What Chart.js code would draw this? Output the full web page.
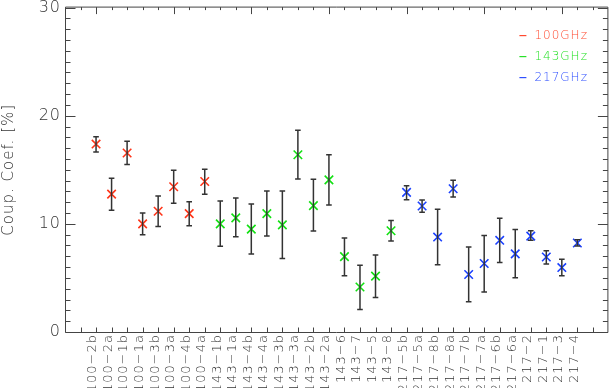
<!DOCTYPE html>
<html><head><meta charset="utf-8">
<script src="https://cdn.jsdelivr.net/npm/chart.js@4/dist/chart.umd.min.js"></script>
<style>html,body{margin:0;padding:0;background:#fff;}#wrap{width:616px;height:388px;position:relative;}</style>
</head><body><div id="wrap"><canvas id="c" width="616" height="388"></canvas></div>
<script>
const categories = ['100\u22122b','100\u22122a','100\u22121b','100\u22121a','100\u22123b','100\u22123a','100\u22124b','100\u22124a',
  '143\u22121b','143\u22121a','143\u22124b','143\u22124a','143\u22123b','143\u22123a','143\u22122b','143\u22122a','143\u22126','143\u22127','143\u22125','143\u22128',
  '217\u22125b','217\u22125a','217\u22128b','217\u22128a','217\u22127b','217\u22127a','217\u22126b','217\u22126a','217\u22122','217\u22121','217\u22123','217\u22124'];
const seriesNames = ['100GHz','143GHz','217GHz'];
const values100 = [17.38, 12.75, 16.55, 10.0, 11.17, 13.43, 10.95, 13.92];
const upper100  = [18.05, 14.22, 17.65, 11.0, 12.57, 14.95, 12.05, 15.05];
const lower100  = [16.64, 11.26, 15.5, 9.0, 9.76, 11.9, 9.82, 12.75];
const values143 = [10.0, 10.55, 9.51, 10.95, 9.91, 16.39, 11.69, 14.07, 6.97, 4.16, 5.17, 9.36];
const upper143  = [12.11, 12.39, 11.83, 13.03, 13.03, 18.66, 14.13, 16.39, 8.69, 6.18, 7.13, 10.31];
const lower143  = [7.93, 8.81, 7.22, 8.87, 6.79, 14.16, 9.33, 11.74, 5.2, 2.08, 3.18, 8.41];
const values217 = [12.91, 11.65, 8.78, 13.25, 5.32, 6.33, 8.48, 7.22, 8.87, 6.94, 5.96, 8.23];
const upper217  = [13.52, 12.2, 11.35, 14.04, 7.86, 8.93, 10.52, 9.49, 9.36, 7.52, 6.73, 8.53];
const lower217  = [12.24, 11.07, 6.21, 12.48, 2.79, 3.7, 6.42, 5.02, 8.48, 6.3, 5.2, 7.95];
const yTicks = [0, 10, 20, 30];

function build(vals, up, lo, offset) {
  return vals.map((v, i) => ({x: offset + i, y: v, hi: up[i], lo: lo[i]}));
}
const markerColors = ['#ff3418', '#12e012', '#1a40ff'];
const legendColors = ['#ff4a30', '#28e028', '#3050ff'];

Chart.defaults.font.family = "'DejaVu Sans', sans-serif";
Chart.defaults.font.weight = '200';
Chart.defaults.color = '#333';

const overlay = {
  id: 'overlay',
  beforeDraw(chart) {
    chart.ctx.letterSpacing = '1px';
  },
  afterDatasetsDraw(chart) {
    const {ctx, scales: {x, y}} = chart;
    ctx.save();
    ctx.strokeStyle = '#333';
    ctx.lineWidth = 1.5;
    chart.data.datasets.forEach(ds => {
      ds.data.forEach(p => {
        const px = x.getPixelForValue(p.x);
        const ph = y.getPixelForValue(p.hi), pl = y.getPixelForValue(p.lo);
        ctx.beginPath();
        ctx.moveTo(px, ph); ctx.lineTo(px, pl);
        ctx.moveTo(px - 2.8, ph); ctx.lineTo(px + 2.8, ph);
        ctx.moveTo(px - 2.8, pl); ctx.lineTo(px + 2.8, pl);
        ctx.stroke();
      });
    });
    ctx.restore();
  },
  afterDraw(chart) {
    const {ctx, chartArea: a, scales: {x, y}} = chart;
    ctx.save();
    ctx.strokeStyle = '#444';
    ctx.lineWidth = 1;
    const xL = a.left + 0.5, xR = a.right - 0.5, yT = a.top - 0.5, yB = a.bottom + 0.5;
    ctx.beginPath();
    ctx.moveTo(xL, yT); ctx.lineTo(xR, yT); ctx.lineTo(xR, yB); ctx.lineTo(xL, yB); ctx.closePath();
    for (let v = y.min; v <= y.max; v++) {
      const py = Math.round(y.getPixelForValue(v)) + 0.5;
      const len = v % 10 === 0 ? 10 : 5;
      ctx.moveTo(xL, py); ctx.lineTo(xL + len, py);
      ctx.moveTo(xR, py); ctx.lineTo(xR - len, py);
    }
    for (let i = Math.ceil(x.min) + 1; i < x.max; i++) {
      const px = Math.round(x.getPixelForValue(i)) + 0.5;
      ctx.moveTo(px, yB); ctx.lineTo(px, yB - 5);
      const tl = i % 5 === 0 ? 7 : 3;
      ctx.moveTo(px, yT); ctx.lineTo(px, yT + tl);
    }
    ctx.stroke();
    // legend
    ctx.font = "200 12px 'DejaVu Sans'";
    ctx.textBaseline = 'middle';
    chart.data.datasets.forEach((ds, k) => {
      const ly = a.top + 28 + k * 21;
      ctx.strokeStyle = ds.legendColor;
      ctx.lineWidth = 1.2;
      ctx.beginPath(); ctx.moveTo(a.right - 89, ly); ctx.lineTo(a.right - 82, ly); ctx.stroke();
      ctx.fillStyle = ds.legendColor;
      ctx.fillText(ds.label, a.right - 74, ly);
    });
    ctx.restore();
  }
};

const groups = [[values100, upper100, lower100, 0], [values143, upper143, lower143, 8], [values217, upper217, lower217, 20]];
const datasets = groups.map((g, k) => ({
  label: seriesNames[k],
  data: build(g[0], g[1], g[2], g[3]),
  showLine: false,
  pointStyle: 'crossRot',
  pointRadius: 6,
  pointHoverRadius: 6,
  pointBorderWidth: 1.6,
  borderColor: markerColors[k],
  backgroundColor: markerColors[k],
  legendColor: legendColors[k]
}));

new Chart(document.getElementById('c'), {
  type: 'scatter',
  data: {datasets},
  options: {
    responsive: false,
    devicePixelRatio: 1,
    animation: false,
    layout: {padding: {top: 5, right: 1, left: 0, bottom: 0}},
    plugins: {legend: {display: false}, tooltip: {enabled: false}},
    events: [],
    scales: {
      x: {
        type: 'linear', min: -2, max: 33,
        grid: {display: false, drawTicks: false},
        border: {display: false},
        afterBuildTicks(scale) { scale.ticks = categories.map((_, i) => ({value: i})); },
        afterFit(scale) { scale.height = 56; scale.paddingLeft = 0; scale.paddingRight = 0; },
        ticks: {
          autoSkip: false, minRotation: 90, maxRotation: 90, padding: 2, labelOffset: -3,
          font: {size: 13}, color: '#333',
          callback: v => categories[v] !== undefined ? categories[v] : ''
        }
      },
      y: {
        min: 0, max: 30,
        grid: {display: false, drawTicks: false},
        border: {display: false},
        afterBuildTicks(scale) { scale.ticks = yTicks.map(v => ({value: v})); },
        afterFit(scale) { scale.width = 65; scale.paddingTop = 0; scale.paddingBottom = 0; },
        ticks: {padding: 4, font: {size: 16}, color: '#333'},
        title: {display: true, text: 'Coup. Coef. [%]', font: {size: 15}, color: '#333', padding: {top: 0, bottom: 0}}
      }
    }
  },
  plugins: [overlay]
});
</script></body></html>
